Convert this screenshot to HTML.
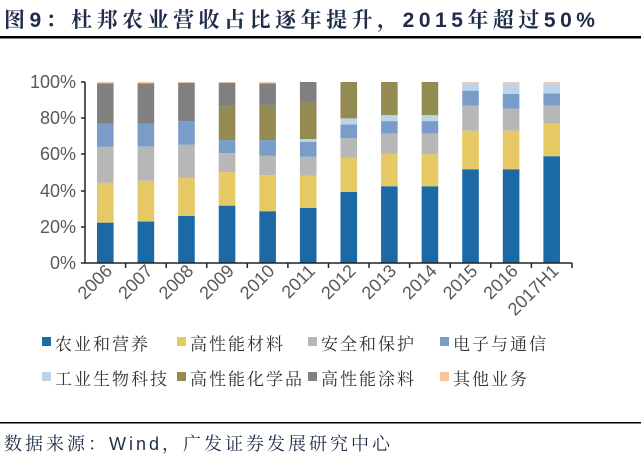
<!DOCTYPE html><html><head><meta charset="utf-8"><style>
body{margin:0;background:#fff;width:641px;height:466px;overflow:hidden;font-family:"Liberation Sans","Noto Sans CJK SC",sans-serif}
</style></head><body>
<svg width="641" height="466" xmlns="http://www.w3.org/2000/svg" font-family="Liberation Sans, Noto Sans CJK SC, sans-serif">
<text x="4" y="27" font-size="21" font-weight="bold" fill="#1F2D4A" font-family="Liberation Sans, Noto Serif CJK SC, serif" letter-spacing="4.5">图9：杜邦农业营收占比逐年提升，2015年超过50%</text>
<rect x="0" y="36" width="641" height="2.5" fill="#000"/>
<g font-size="18" fill="#595959" text-anchor="end">
<text x="76" y="88">100%</text><text x="76" y="124">80%</text><text x="76" y="160">60%</text><text x="76" y="197">40%</text><text x="76" y="233">20%</text><text x="76" y="269">0%</text>
</g>
<g id="bars"></g>
<g stroke="#222" stroke-width="1.5">
<line x1="85" y1="82" x2="85" y2="263"/><line x1="85" y1="263" x2="572" y2="263"/>
<line x1="81" y1="82" x2="85" y2="82"/><line x1="81" y1="118" x2="85" y2="118"/><line x1="81" y1="154" x2="85" y2="154"/><line x1="81" y1="191" x2="85" y2="191"/><line x1="81" y1="227" x2="85" y2="227"/><line x1="81" y1="263" x2="85" y2="263"/>
</g>
<g id="ticks" stroke="#222" stroke-width="1.5"></g>
<g id="xl" font-size="18" fill="#595959" text-anchor="end"></g>
<g font-size="17" fill="#333" font-family="Liberation Serif, Noto Serif CJK SC, serif" letter-spacing="2">
<rect x="42" y="337" width="9" height="9" fill="#1B6AA5"/><text x="55" y="350">农业和营养</text>
<rect x="177" y="337" width="9" height="9" fill="#E6C865"/><text x="190" y="350">高性能材料</text>
<rect x="308" y="337" width="9" height="9" fill="#B7B7B7"/><text x="321" y="350">安全和保护</text>
<rect x="440" y="337" width="9" height="9" fill="#7A9CC9"/><text x="453" y="350">电子与通信</text>
<rect x="42" y="372" width="9" height="9" fill="#BDD3EA"/><text x="55" y="385">工业生物科技</text>
<rect x="177" y="372" width="9" height="9" fill="#948B52"/><text x="190" y="385">高性能化学品</text>
<rect x="308" y="372" width="9" height="9" fill="#808080"/><text x="321" y="385">高性能涂料</text>
<rect x="440" y="372" width="9" height="9" fill="#F8C49B"/><text x="453" y="385">其他业务</text>
</g>
<rect x="0" y="422" width="641" height="1.5" fill="#000"/>
<text x="4" y="450" font-size="18" fill="#1F2D4A" font-family="Liberation Sans, Noto Serif CJK SC, serif" letter-spacing="3">数据来源：Wind，广发证券发展研究中心</text>
</svg>
<script>
var cols=["#1B6AA5","#E6C865","#B7B7B7","#7A9CC9","#BDD3EA","#948B52","#808080","#F8C49B"];
var d=[[22.3,44.3,64.2,77.1,77.1,77.1,99.3,100],[22.9,45.4,64.4,77.1,77.1,77.1,99.3,100],[26,47,65.3,78.4,78.4,78.4,99.6,100],[31.7,50.2,60.7,67.9,67.9,86.7,99.6,100],[28.6,48.5,59.2,67.9,67.9,87.3,99.3,100],[30.4,48.3,58.7,67,68.5,88.7,100,100],[39.3,58.1,69,76.6,79.9,100,100,100],[42.4,60.5,71.6,78.4,81.7,100,100,100],[42.4,60.1,71.6,78.4,81.7,100,100,100],[51.8,73.1,86.9,95.2,99.6,99.6,99.6,100],[51.8,73.1,85.2,93.4,99.6,99.6,99.6,100],[59,77.1,86.9,93.7,99.5,99.5,99.5,100]];
var lab=["2006","2007","2008","2009","2010","2011","2012","2013","2014","2015","2016","2017H1"];
var ns="http://www.w3.org/2000/svg",b=document.getElementById("bars"),t=document.getElementById("ticks"),xl=document.getElementById("xl");
function Y(v){return 263-v*1.81}
d.forEach(function(r,i){var c=85+20.3+40.58*i,p=0;
r.forEach(function(v,k){if(v>p){var e=document.createElementNS(ns,"rect");e.setAttribute("x",c-8.3);e.setAttribute("width",16.6);e.setAttribute("y",Y(v));e.setAttribute("height",Y(p)-Y(v));e.setAttribute("fill",cols[k]);b.appendChild(e);}p=v;});
var l=document.createElementNS(ns,"line");var tx=85+40.58*(i+1);l.setAttribute("x1",tx);l.setAttribute("x2",tx);l.setAttribute("y1",263);l.setAttribute("y2",268);t.appendChild(l);
var tt=document.createElementNS(ns,"text");tt.setAttribute("transform","translate("+(c+8)+",272) rotate(-45)");tt.textContent=lab[i];xl.appendChild(tt);});
</script>
</body></html>
